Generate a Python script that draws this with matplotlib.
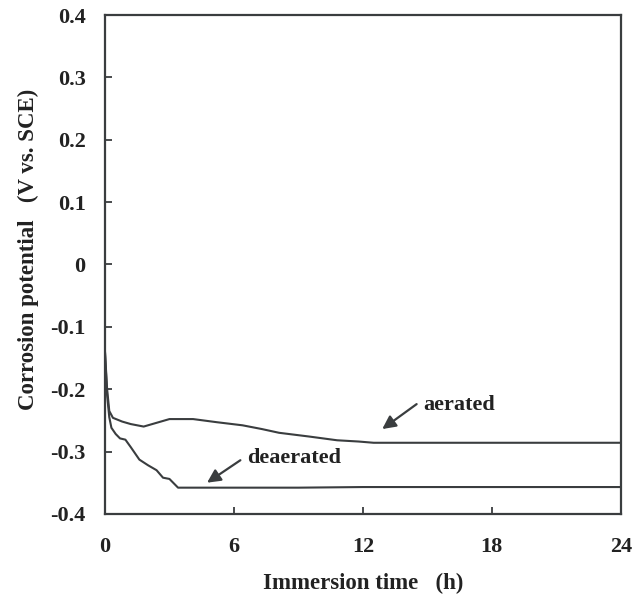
import matplotlib
matplotlib.use("Agg")
import matplotlib.pyplot as plt

plt.rcParams['font.family'] = ['Liberation Serif', 'DejaVu Serif']
plt.rcParams['font.weight'] = 'bold'

# Corrosion potential vs. immersion time
t_aerated = [0.0, 0.1, 0.2, 0.37, 0.8, 1.2, 1.8, 2.4, 3.0, 4.1, 5.2, 6.4, 7.3, 8.1, 9.5, 10.8, 11.8, 12.5, 15.0, 18.0, 21.0, 24.0]
e_aerated = [-0.14, -0.20, -0.235, -0.246, -0.252, -0.256, -0.260, -0.254, -0.248, -0.248, -0.253, -0.258, -0.264, -0.270, -0.276, -0.282, -0.284, -0.286, -0.286, -0.286, -0.286, -0.286]

t_deaerated = [0.0, 0.1, 0.2, 0.3, 0.5, 0.7, 0.95, 1.2, 1.6, 2.0, 2.4, 2.7, 3.0, 3.4, 4.5, 6.0, 9.0, 12.0, 15.0, 18.0, 21.0, 24.0]
e_deaerated = [-0.14, -0.21, -0.245, -0.262, -0.272, -0.279, -0.281, -0.293, -0.313, -0.322, -0.330, -0.342, -0.344, -0.358, -0.358, -0.358, -0.358, -0.357, -0.357, -0.357, -0.357, -0.357]

x_ticks = [0, 6, 12, 18, 24]
y_ticks = [0.4, 0.3, 0.2, 0.1, 0.0, -0.1, -0.2, -0.3, -0.4]
y_tick_labels = ['0.4', '0.3', '0.2', '0.1', '0', '-0.1', '-0.2', '-0.3', '-0.4']

ink = '#3a3d3f'
text_ink = '#222222'

fig = plt.figure(figsize=(6.44, 6.01), dpi=100)
ax = fig.add_axes([0.163, 0.145, 0.801, 0.830])

ax.plot(t_aerated, e_aerated, color=ink, lw=1.5)
ax.plot(t_deaerated, e_deaerated, color=ink, lw=1.5)

ax.set_xlim(0, 24)
ax.set_ylim(-0.4, 0.4)
ax.set_xticks(x_ticks)
ax.set_xticklabels([str(v) for v in x_ticks])
ax.set_yticks(y_ticks)
ax.set_yticklabels(y_tick_labels)

ax.tick_params(axis='both', direction='in', length=5, width=1.3, color=ink,
               labelsize=16, top=False, right=False)
ax.tick_params(axis='x', pad=17)
ax.tick_params(axis='y', pad=14)
for lab in ax.get_xticklabels() + ax.get_yticklabels():
    lab.set_fontweight('bold')
    lab.set_color(text_ink)

for sp in ax.spines.values():
    sp.set_linewidth(1.6)
    sp.set_color(ink)

ax.set_xlabel('Immersion time   (h)', fontsize=16.5, fontweight='bold', color=text_ink)
ax.set_ylabel('Corrosion potential   (V vs. SCE)', fontsize=16.5, fontweight='bold', color=text_ink)
ax.xaxis.set_label_coords(0.5, -0.118)
ax.yaxis.set_label_coords(-0.128, 0.53)

# curve labels with pointer arrows
arrow_style = dict(arrowstyle='-|>', color=ink, lw=1.6, mutation_scale=20,
                   shrinkA=0, shrinkB=0)
ax.text(14.8, -0.225, 'aerated', fontsize=16, fontweight='bold', color=text_ink,
        va='center', ha='left')
ax.annotate('', xy=(12.9, -0.264), xytext=(14.5, -0.224), arrowprops=arrow_style)

ax.text(6.6, -0.311, 'deaerated', fontsize=16, fontweight='bold', color=text_ink,
        va='center', ha='left')
ax.annotate('', xy=(4.75, -0.350), xytext=(6.3, -0.314), arrowprops=arrow_style)

fig.savefig('out.png', dpi=100, facecolor='white')
